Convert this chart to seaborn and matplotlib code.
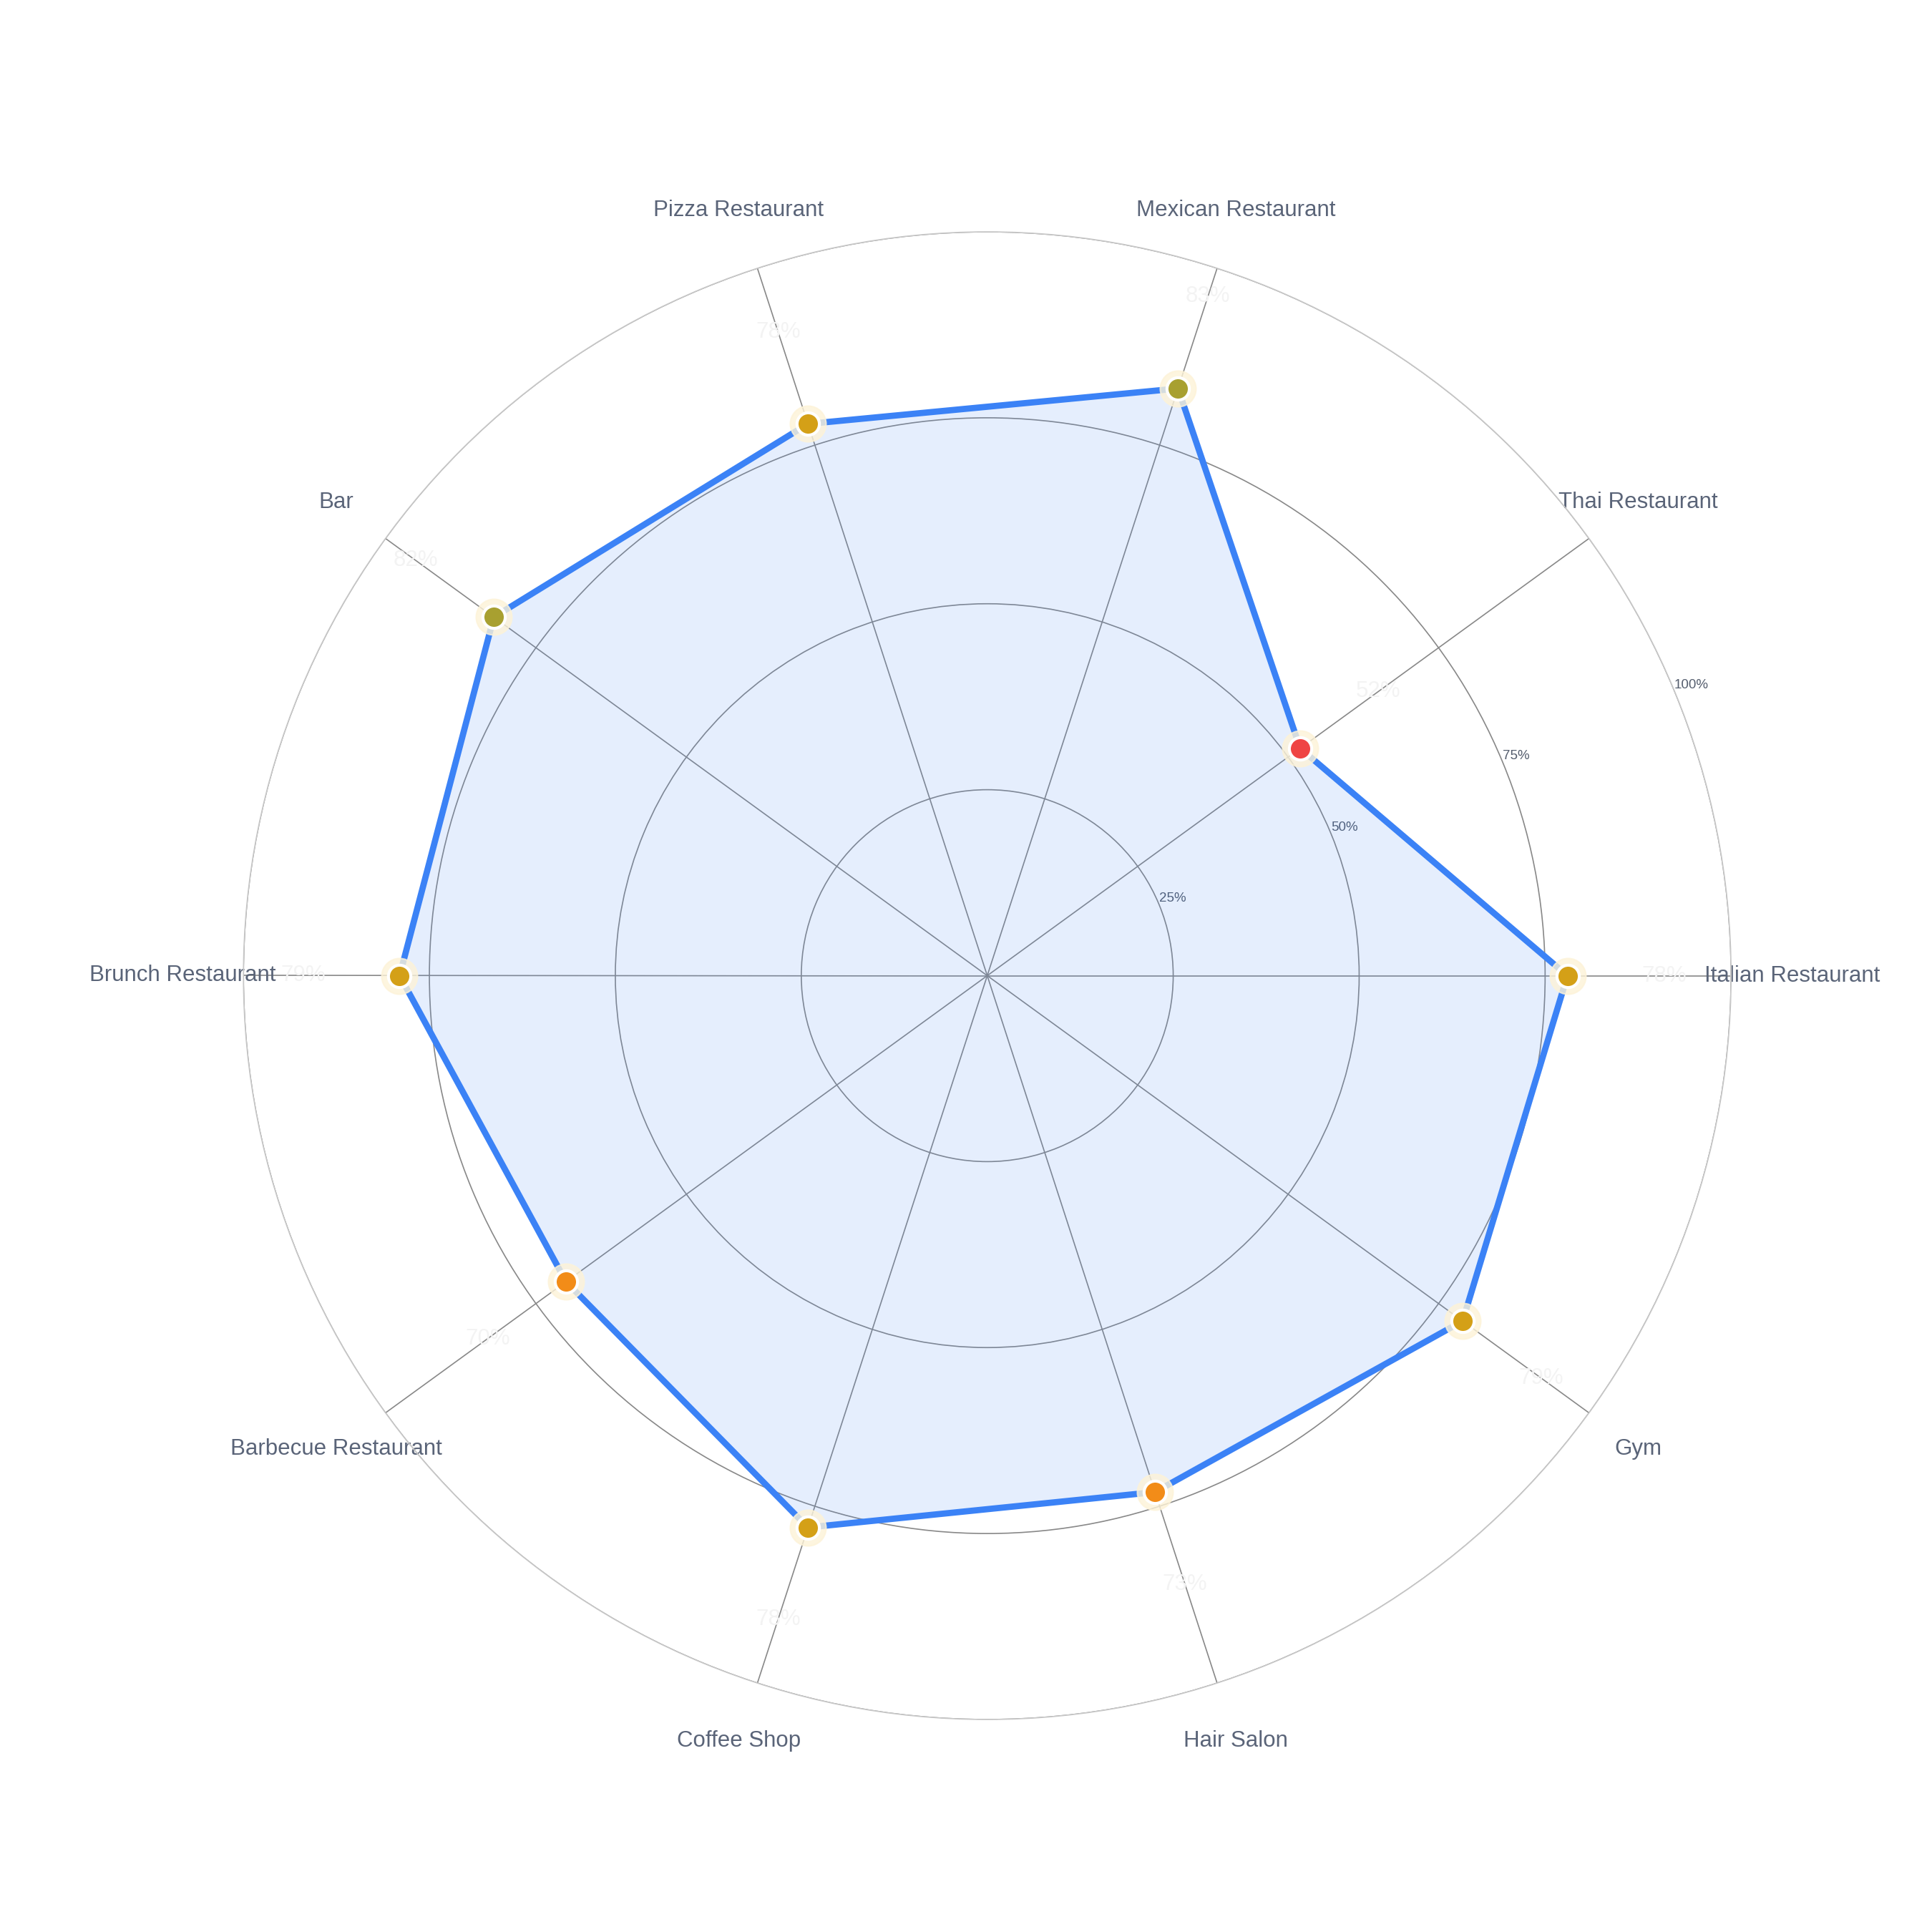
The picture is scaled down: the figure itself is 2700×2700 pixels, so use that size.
import numpy as np
import matplotlib
matplotlib.use("Agg")
import matplotlib.pyplot as plt
import seaborn as sns

categories = ["Italian Restaurant", "Thai Restaurant", "Mexican Restaurant", "Pizza Restaurant", "Bar",
              "Brunch Restaurant", "Barbecue Restaurant", "Coffee Shop", "Hair Salon", "Gym"]
values = [78, 52, 83, 78, 82, 79, 70, 78, 73, 79]
radial_ticks = [25, 50, 75, 100]
radial_labels = ["25%", "50%", "75%", "100%"]

sns.set_theme(style="white")
plt.rcParams['font.family'] = ['Liberation Sans', 'DejaVu Sans']

def mcolor(v):
    if v < 60: return "#ef4444"
    if v < 76: return "#f28c18"
    if v < 81: return "#d4a017"
    return "#a8a030"

fig = plt.figure(figsize=(18, 18), dpi=150)
ax = fig.add_axes([0.511 - 0.385, 0.495 - 0.385, 0.77, 0.77], projection="polar")
n = len(categories)
theta = np.arange(n) * 2 * np.pi / n
th = np.append(theta, theta[0])
r = np.array(values + [values[0]]) / 100

ax.set_ylim(0, 1)
ax.fill(th, r, color="#3b82f6", alpha=0.13, zorder=2)
ax.plot(th, r, color="#3b82f6", lw=4.2, zorder=3)
for t, v in zip(theta, values):
    ax.plot(t, v / 100, 'o', ms=24, color="#fdf3d8", alpha=0.8, zorder=4)
    ax.plot(t, v / 100, 'o', ms=15, color=mcolor(v), mec="white", mew=2, zorder=5)
    ax.text(t, v / 100 + 0.13, f"{v}%", color="#f3f3f3", fontsize=15, ha="center", va="center", zorder=6)

ax.set_yticks([x / 100 for x in radial_ticks])
ax.set_yticklabels(radial_labels, fontsize=9, color="#555e6e")
ax.set_rlabel_position(22.5)
ax.set_thetagrids(np.degrees(theta), categories, fontsize=15, color="#5a6478")
ax.tick_params(axis='x', pad=28)
ax.grid(True, color="#888888", lw=0.8)
ax.spines['polar'].set_color("#c8c8c8")
ax.spines['polar'].set_linewidth(0.8)
ax.set_facecolor("white")
fig.savefig("out.png", dpi=150, facecolor="white")
